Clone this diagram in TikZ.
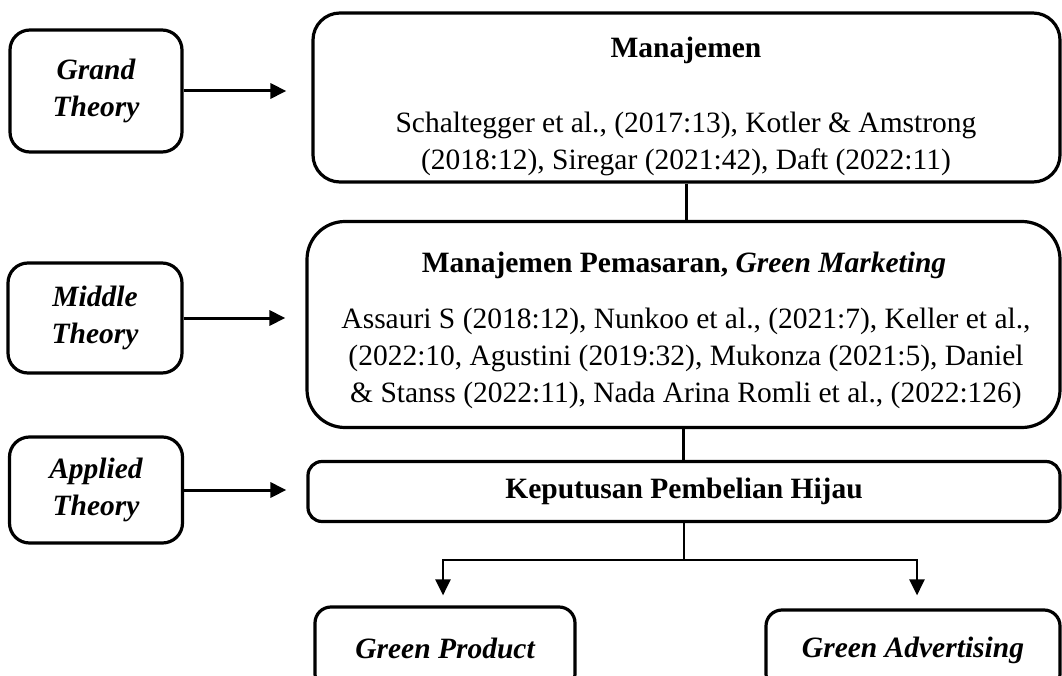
\documentclass[tikz,border=0pt]{standalone}
\usepackage{fontspec}
\setmainfont{Liberation Serif}
\usetikzlibrary{arrows.meta}
\newcommand{\diagfont}{\fontsize{29.5}{37}\selectfont}
\begin{document}
\begin{tikzpicture}[x=1pt,y=-1pt,
  box/.style={draw, line width=3.2pt, rounded corners=#1, inner sep=0pt, align=center},
  box/.default=20pt,
  txt/.style={font=\diagfont, align=center, inner sep=0pt},
  lbl/.style={box=20pt, txt, font=\diagfont\bfseries\itshape},
  link/.style={line width=3pt},
  tip/.style={-{Triangle[length=16pt,width=15pt]}},
  arr/.style={line width=3pt, tip},
]
\useasboundingbox (0,0) rectangle (1062,676);
\clip (0,0) rectangle (1062,676);

% level labels on the left
\node[lbl, minimum width=172pt, minimum height=122pt] (grand) at (96,91) {Grand\\Theory};
\node[lbl, minimum width=174pt, minimum height=110pt] (middle) at (95,318) {Middle\\Theory};
\node[lbl, minimum width=173pt, minimum height=106pt] (applied) at (96,490) {Applied\\Theory};

% theory boxes
\node[box=27pt, minimum width=747pt, minimum height=169pt] (mgmt) at (686.5,97.5) {};
\node[txt, font=\diagfont\bfseries] (mgmtT) at (686,50) {Manajemen};
\node[txt] (mgmtB) at (686,143.5) {Schaltegger et al., (2017:13), Kotler \& Amstrong\\(2018:12), Siregar (2021:42), Daft (2022:11)};

\node[box=38pt, minimum width=753pt, minimum height=206pt] (mkt) at (683.5,324.5) {};
\node[txt, font=\diagfont\bfseries] (mktT) at (684,265) {Manajemen Pemasaran, \textit{Green Marketing}};
\node[txt] (mktB) at (686,358) {Assauri S (2018:12), Nunkoo et al., (2021:7), Keller et al.,\\(2022:10, Agustini (2019:32), Mukonza (2021:5), Daniel\\\& Stanss (2022:11), Nada Arina Romli et al., (2022:126)};

\node[box=14pt, minimum width=752pt, minimum height=60pt, txt, font=\diagfont\bfseries] (kep) at (684,491.5) {Keputusan Pembelian Hijau};

% dimensions
\node[box=16pt, minimum width=260pt, minimum height=83pt, txt, font=\diagfont\bfseries\itshape] (gp) at (445,648.5) {Green Product};
\node[box=16pt, minimum width=294pt, minimum height=80pt, txt, font=\diagfont\bfseries\itshape] (ga) at (913,650) {Green Advertising};

% connectors
\draw[arr, shorten >=25pt] (grand.east) -- (grand.east -| mgmt.west);
\draw[arr, shorten >=20pt] (middle.east) -- (middle.east -| mkt.west);
\draw[arr, shorten >=20pt] (applied.east) -- (applied.east -| kep.west);

\draw[link] (mgmt.south) -- (mgmt.south |- mkt.north);
\draw[line width=2.2pt] (mkt.south) -- (mkt.south |- kep.north);

\coordinate (split) at ([yshift=-37pt]kep.south);
\draw[line width=2.6pt] (kep.south) -- (split);
\draw[line width=2.6pt, tip, shorten >=10pt] (split) -| ([xshift=-2pt]gp.north);
\draw[line width=2.6pt, tip, shorten >=13pt] (split) -| ([xshift=4pt]ga.north);
\end{tikzpicture}
\end{document}
